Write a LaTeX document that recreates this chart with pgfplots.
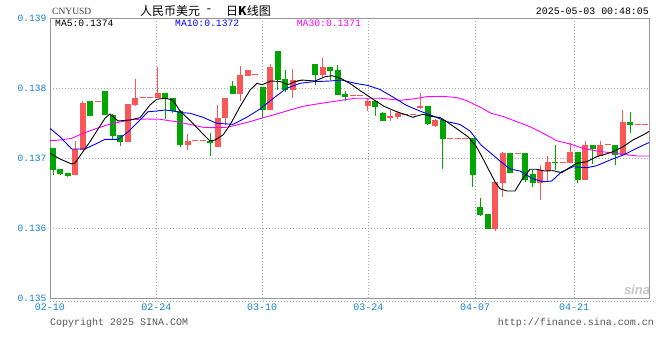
\documentclass[border=0pt]{standalone}
\usepackage{pgfplots}
\pgfplotsset{compat=1.18}
\usepackage{pgfplotstable}
\usepackage{fontspec}
\setmainfont{Liberation Sans}
\setmonofont{Liberation Mono}
\newfontfamily\cjk{Noto Sans CJK SC}
\newfontfamily\serifb{Liberation Serif}
\definecolor{cred}{RGB}{250,88,88}
\definecolor{cgreen}{RGB}{0,166,0}
\definecolor{tickblue}{RGB}{20,130,210}
\definecolor{gridgray}{RGB}{165,165,165}
\definecolor{bordergray}{RGB}{150,150,150}
\definecolor{txtgray}{RGB}{85,85,85}

\pgfplotstableread{
x o h l c
0 0.137143 0.137143 0.136757 0.136829
1 0.136843 0.136843 0.136757 0.136771
2 0.136786 0.136786 0.136733 0.136747
5 0.137819 0.137819 0.137600 0.137600
7 0.137961 0.137961 0.137614 0.137614
8 0.137614 0.137633 0.137257 0.137314
9 0.137329 0.137329 0.137176 0.137233
15 0.137933 0.137933 0.137557 0.137843
16 0.137853 0.137853 0.137643 0.137671
17 0.137679 0.137686 0.137164 0.137186
21 0.137243 0.137357 0.137033 0.137210
24 0.138029 0.138100 0.137914 0.137914
28 0.138010 0.138010 0.137571 0.137686
30 0.138529 0.138529 0.137971 0.138114
31 0.138124 0.138257 0.137943 0.137971
35 0.138339 0.138339 0.138043 0.138190
37 0.138296 0.138296 0.138114 0.138247
38 0.138257 0.138329 0.137900 0.137900
39 0.137914 0.137957 0.137819 0.137876
43 0.137814 0.137814 0.137604 0.137733
44 0.137647 0.137661 0.137533 0.137533
50 0.137743 0.137743 0.137471 0.137486
52 0.137543 0.137543 0.136839 0.137271
56 0.137281 0.137281 0.136590 0.136757
57 0.136304 0.136424 0.136171 0.136186
58 0.136200 0.136200 0.135986 0.135986
61 0.137076 0.137076 0.136790 0.136790
63 0.137076 0.137076 0.136661 0.136686
64 0.136771 0.136829 0.136586 0.136639
67 0.136947 0.137186 0.136829 0.136933
70 0.137081 0.137081 0.136647 0.136686
72 0.137186 0.137186 0.136914 0.137129
75 0.137186 0.137186 0.136900 0.137043
77 0.137519 0.137661 0.137361 0.137471
}\greentab

\pgfplotstableread{
x o h l c
3 0.136757 0.137243 0.136757 0.137129
4 0.137114 0.137819 0.137114 0.137790
10 0.137233 0.137771 0.137233 0.137771
11 0.137757 0.138129 0.137743 0.137861
14 0.137861 0.138304 0.137861 0.137933
18 0.137186 0.137343 0.137114 0.137243
22 0.137161 0.137757 0.137157 0.137567
23 0.137576 0.137853 0.137471 0.137853
25 0.137914 0.138319 0.137819 0.138186
26 0.138176 0.138257 0.138176 0.138257
29 0.137686 0.138339 0.137686 0.138304
32 0.137971 0.138271 0.137857 0.138114
36 0.138186 0.138424 0.138157 0.138296
42 0.137743 0.137853 0.137671 0.137814
45 0.137576 0.137686 0.137533 0.137600
46 0.137590 0.137676 0.137557 0.137639
49 0.137714 0.137933 0.137700 0.137743
51 0.137457 0.137557 0.137443 0.137543
59 0.135986 0.136657 0.135961 0.136657
60 0.136639 0.137090 0.136439 0.137076
65 0.136639 0.136900 0.136400 0.136829
66 0.136819 0.137024 0.136667 0.136939
69 0.136933 0.137219 0.136933 0.137081
71 0.136686 0.137243 0.136686 0.137186
73 0.137029 0.137247 0.137029 0.137186
76 0.137043 0.137686 0.137043 0.137519
}\redtab

\pgfplotstableread{
x v
6 0.137814
12 0.137867
13 0.137867
19 0.137243
20 0.137243
27 0.138186
33 0.138114
34 0.138114
40 0.137896
41 0.137896
47 0.137624
48 0.137624
53 0.137279
54 0.137279
55 0.137279
62 0.137067
68 0.136939
74 0.137186
78 0.137481
79 0.137481
}\flattab

\pgfplotsset{candle/.style={draw=none, mark=none, forget plot}}

\begin{document}
\begin{tikzpicture}
\begin{axis}[
  at={(0,0)}, anchor=south west,
  scale only axis, width=599pt, height=280pt,
  xmin=-0.4, xmax=79.47, ymin=0.135, ymax=0.139,
  enlargelimits=false,
  axis line style={draw=bordergray, line width=1pt},
  major tick length=0pt,
  xtick={-0.4,13.8,27.9,42.04,56.3,69.5},
  xticklabels={02-10,02-24,03-10,03-24,04-07,04-21},
  ytick={0.135,0.136,0.137,0.138,0.139},
  yticklabels={0.135,0.136,0.137,0.138,0.139},
  xticklabel style={text=tickblue, font=\ttfamily\fontsize{10}{12}\selectfont, yshift=-2pt},
  yticklabel style={text=tickblue, font=\ttfamily\fontsize{9.6}{11}\selectfont},
  xmajorgrids, ymajorgrids,
  grid style={draw=gridgray, line width=0.8pt, dash pattern=on 1pt off 2pt},
]
% flat days
\addplot[candle,
  error bars/.cd, x dir=both, x fixed=0.45, error mark=none,
  error bar style={draw=cred, line width=1pt, dash pattern=on 3pt off 2pt}]
  table[x=x, y=v] {\flattab};
% wicks
\addplot[candle,
  error bars/.cd, y dir=both, y explicit, error mark=none,
  error bar style={draw=cgreen, line width=1pt, solid}]
  table[x=x, y expr={(\thisrow{h}+\thisrow{l})/2}, y error expr={(\thisrow{h}-\thisrow{l})/2}] {\greentab};
\addplot[candle,
  error bars/.cd, y dir=both, y explicit, error mark=none,
  error bar style={draw=cred, line width=1pt, solid}]
  table[x=x, y expr={(\thisrow{h}+\thisrow{l})/2}, y error expr={(\thisrow{h}-\thisrow{l})/2}] {\redtab};
% bodies
\addplot[candle,
  error bars/.cd, y dir=both, y explicit, error mark=none,
  error bar style={draw=cgreen, line width=6pt, solid}]
  table[x=x, y expr={(\thisrow{o}+\thisrow{c})/2}, y error expr={(\thisrow{o}-\thisrow{c})/2}] {\greentab};
\addplot[candle,
  error bars/.cd, y dir=both, y explicit, error mark=none,
  error bar style={draw=cred, line width=6pt, solid}]
  table[x=x, y expr={(\thisrow{o}+\thisrow{c})/2}, y error expr={(\thisrow{c}-\thisrow{o})/2}] {\redtab};
% MA30
\addplot[draw={rgb,255:red,255;green,0;blue,255}, line width=0.9pt, mark=none] coordinates {
(-0.4,0.137247) (0.93,0.137257) (2.49,0.137281) (4.04,0.137353) (5.6,0.137414) (7.16,0.137471) (8.93,0.137514) (10.71,0.137550) (12.49,0.137557) (14.27,0.137553) (16.27,0.137521) (18.27,0.137481) (20,0.137439) (21.33,0.137433) (23.16,0.137439) (24.49,0.137471) (26.27,0.137519) (28.04,0.137576) (29.83,0.137629) (31.6,0.137686) (33.37,0.137739) (35.16,0.137771) (36.93,0.137800) (38.71,0.137829) (40.27,0.137853) (42.04,0.137853) (43.83,0.137853) (46.27,0.137824) (48,0.137843) (49.83,0.137876) (52,0.137881) (53.83,0.137864) (55.16,0.137819) (57.07,0.137721) (58.4,0.137639) (60.04,0.137593) (61.83,0.137519) (63.6,0.137447) (65.37,0.137353) (67.16,0.137247) (68.93,0.137200) (70.71,0.137139) (72.49,0.137100) (74.27,0.137076) (76.04,0.137053) (77.83,0.137029) (79.47,0.137029)};
% MA10
\addplot[draw={rgb,255:red,0;green,0;blue,255}, line width=0.9pt, mark=none] coordinates {
(-0.4,0.137424) (0.93,0.137304) (2.49,0.137129) (4.27,0.137129) (5.6,0.137196) (6.93,0.137267) (8.71,0.137267) (10.04,0.137376) (11.6,0.137543) (12.67,0.137661) (13.83,0.137671) (14.93,0.137686) (16,0.137671) (17.33,0.137647) (18.27,0.137639) (20,0.137581) (21.83,0.137496) (24,0.137481) (25.83,0.137581) (27.6,0.137700) (29.6,0.137871) (31.16,0.137996) (32.93,0.138067) (34.67,0.138090) (36.93,0.138100) (38.49,0.138114) (40.27,0.138067) (42,0.138036) (43.6,0.137979) (45.33,0.137871) (47.16,0.137750) (48.93,0.137671) (50.67,0.137600) (52.49,0.137521) (54.27,0.137479) (55.6,0.137386) (57.07,0.137186) (58.4,0.137067) (59.6,0.136957) (60.93,0.136843) (62.27,0.136814) (64.04,0.136700) (65.37,0.136661) (66.49,0.136671) (67.83,0.136804) (69.37,0.136876) (71.16,0.136861) (72.49,0.136890) (74.27,0.136971) (76.04,0.137043) (77.83,0.137139) (79.47,0.137221)};
% MA5
\addplot[draw=black, line width=0.9pt, mark=none] coordinates {
(-0.4,0.137067) (0.93,0.136986) (2.49,0.136914) (2.93,0.136929) (4.93,0.137233) (6.93,0.137567) (7.6,0.137629) (8.67,0.137529) (10.27,0.137543) (11.6,0.137576) (12.93,0.137757) (13.83,0.137839) (14.93,0.137853) (16,0.137829) (16.93,0.137671) (18.27,0.137536) (20,0.137343) (20.93,0.137243) (21.6,0.137257) (22.67,0.137329) (23.6,0.137471) (24.93,0.137733) (26.27,0.137971) (27.2,0.138067) (27.87,0.138047) (29.07,0.138100) (30.27,0.138093) (31.33,0.138050) (32.27,0.138090) (33.2,0.138114) (34.93,0.138100) (36.27,0.138161) (37.2,0.138176) (38.4,0.138136) (39.6,0.138064) (40.93,0.137964) (42.53,0.137850) (44.13,0.137739) (45.83,0.137661) (47.16,0.137614) (48,0.137581) (48.49,0.137600) (49.33,0.137624) (50.67,0.137590) (51.6,0.137579) (52.49,0.137519) (53.83,0.137419) (55.33,0.137304) (56.4,0.137171) (57.07,0.137043) (57.87,0.136879) (58.93,0.136661) (59.6,0.136561) (60.53,0.136529) (61.6,0.136529) (62.49,0.136686) (63.6,0.136839) (64.49,0.136839) (65.6,0.136814) (66.67,0.136819) (67.83,0.136790) (68.93,0.136867) (69.83,0.136924) (71.16,0.136947) (72.49,0.137019) (73.6,0.137053) (74.67,0.137090) (76,0.137161) (77.33,0.137257) (78.67,0.137329) (79.47,0.137379)};
\end{axis}
% dotted line under axis
\draw[draw=gridgray, line width=0.8pt, dash pattern=on 1pt off 2pt] (0pt,-3pt) -- (606pt,-3pt);
% header
\node[anchor=west, inner sep=0pt, text={rgb,255:red,60;green,60;blue,60}, font=\serifb\fontsize{9.5}{11}\selectfont] at (2pt,286.5pt) {CNYUSD};
\node[anchor=west, inner sep=0pt, font=\cjk\fontsize{12}{14}\selectfont] at (90pt,287.5pt) {人民币美元};
\node[anchor=center, inner sep=0pt, font=\ttfamily\fontsize{12}{14}\selectfont] at (159pt,287.5pt) {-};
\node[anchor=west, inner sep=0pt, font=\cjk\fontsize{12}{14}\selectfont] at (176pt,287.5pt) {日\textbf{K}线图};
\node[anchor=east, inner sep=0pt, font=\ttfamily\fontsize{9.9}{12}\selectfont] at (599pt,286.5pt) {2025-05-03 00:48:05};
% MA labels
\node[anchor=west, inner sep=0pt, text=black, font=\ttfamily\fontsize{9.7}{11}\selectfont] at (5pt,274.5pt) {MA5:0.1374};
\node[anchor=west, inner sep=0pt, text={rgb,255:red,0;green,0;blue,255}, font=\ttfamily\fontsize{9.7}{11}\selectfont] at (125pt,274.5pt) {MA10:0.1372};
\node[anchor=west, inner sep=0pt, text={rgb,255:red,255;green,0;blue,255}, font=\ttfamily\fontsize{9.7}{11}\selectfont] at (246.7pt,274.5pt) {MA30:0.1371};
% watermark
\node[anchor=center, inner sep=0pt, text=gray!45, font=\bfseries\itshape\fontsize{13}{14}\selectfont] at (587pt,8pt) {sina};
% footer
\node[anchor=west, inner sep=0pt, text=txtgray, font=\ttfamily\fontsize{10}{12}\selectfont] at (0pt,-25pt) {Copyright 2025 SINA.COM};
\node[anchor=east, inner sep=0pt, text=txtgray, font=\ttfamily\fontsize{10}{12}\selectfont] at (604pt,-25pt) {http://finance.sina.com.cn};
\pgfresetboundingbox
\path[use as bounding box] (-50pt,-62pt) rectangle (610pt,298pt);
\end{tikzpicture}
\end{document}
